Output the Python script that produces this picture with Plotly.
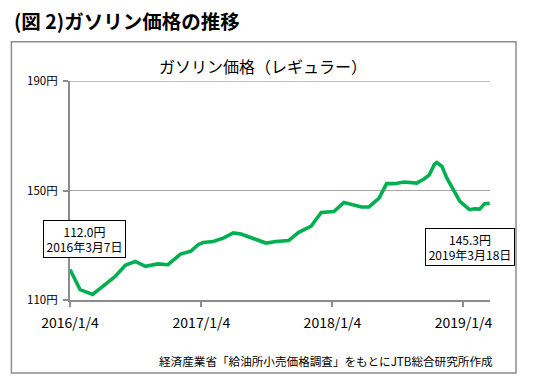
import plotly.graph_objects as go

# ---- data ----
dates = [
    "2016-01-04", "2016-02-01", "2016-03-07", "2016-04-04", "2016-05-09",
    "2016-06-06", "2016-07-04", "2016-08-01", "2016-09-05", "2016-10-03",
    "2016-11-07", "2016-12-05", "2016-12-26", "2017-01-09", "2017-02-06",
    "2017-03-06", "2017-04-03", "2017-04-24", "2017-07-03", "2017-07-31",
    "2017-09-04", "2017-10-02", "2017-11-06", "2017-12-04", "2018-01-08",
    "2018-02-05", "2018-03-05", "2018-03-26", "2018-04-16", "2018-05-14",
    "2018-06-04", "2018-06-25", "2018-07-23", "2018-08-27", "2018-09-17",
    "2018-10-01", "2018-10-15", "2018-10-22", "2018-11-05", "2018-11-19",
    "2018-12-10", "2018-12-25", "2019-01-21", "2019-02-04", "2019-02-18",
    "2019-03-04", "2019-03-18",
]
prices = [
    121.1, 113.8, 112.0, 115.0, 118.6,
    122.7, 124.1, 122.3, 123.2, 122.9,
    126.8, 127.8, 130.2, 131.0, 131.4,
    132.6, 134.5, 134.1, 130.8, 131.4,
    131.7, 134.7, 137.0, 142.0, 142.3,
    145.6, 144.8, 144.0, 144.0, 147.2,
    152.5, 152.5, 153.1, 152.7, 154.3,
    155.7, 159.5, 160.2, 158.8, 154.5,
    149.6, 146.0, 143.0, 143.3, 143.2,
    145.2, 145.3,
]
y_ticks = [110, 150, 190]
y_tick_labels = ["110円", "150円", "190円"]
x_ticks = ["2016-01-04", "2017-01-04", "2018-01-04", "2019-01-04"]
x_tick_labels = ["2016/1/4", "2017/1/4", "2018/1/4", "2019/1/4"]

header = "(図 2)ガソリン価格の推移"
chart_title = "ガソリン価格（レギュラー）"
source = "経済産業省「給油所小売価格調査」をもとにJTB総合研究所作成"
callout_start = "112.0円<br>2016年3月7日"
callout_end = "145.3円<br>2019年3月18日"

FONT = "Noto Sans CJK JP"
GRAY = "#8C8C8C"
GRID = "#A6A6A6"

fig = go.Figure()
fig.add_trace(go.Scatter(
    x=dates, y=prices, mode="lines",
    line=dict(color="#00B050", width=3.6),
    showlegend=False, hoverinfo="skip",
))

fig.update_layout(
    width=542, height=386,
    margin=dict(l=70, r=52, t=81, b=86),
    paper_bgcolor="white", plot_bgcolor="white",
    font=dict(family=FONT, color="#000000"),
    xaxis=dict(
        range=["2016-01-04", "2019-03-19"],
        tickvals=x_ticks, ticktext=x_tick_labels,
        showgrid=False, zeroline=False,
        showline=True, linecolor=GRAY, linewidth=2,
        ticks="outside", ticklen=5, tickcolor=GRAY, tickwidth=1.5,
        tickfont=dict(size=14, family=FONT),
        ticklabelstandoff=4,
    ),
    yaxis=dict(
        range=[110, 190],
        tickvals=y_ticks, ticktext=y_tick_labels,
        showgrid=True, gridcolor=GRID, gridwidth=1.3,
        zeroline=False,
        showline=True, linecolor=GRAY, linewidth=2,
        ticks="outside", ticklen=5, tickcolor=GRAY, tickwidth=1.5,
        tickfont=dict(size=11.5, family=FONT),
        ticklabelstandoff=3,
    ),
)

# top grid line (at the upper edge of the y range)
fig.add_shape(type="line", xref="paper", yref="y",
              x0=0, x1=1, y0=y_ticks[-1], y1=y_ticks[-1],
              line=dict(color=GRID, width=1.3), layer="below")

# outer frame of the chart
fig.add_shape(type="rect", xref="paper", yref="paper",
              x0=-0.1395, x1=1.0619, y0=-0.3333, y1=1.1794,
              line=dict(color=GRAY, width=1.5), fillcolor="rgba(0,0,0,0)",
              layer="below")

fig.add_annotation(text=header, xref="paper", yref="paper",
                   x=-0.138, y=1.2753, xanchor="left", yanchor="middle",
                   showarrow=False,
                   font=dict(size=19.5, family=FONT, color="#000000", weight="bold"))
fig.add_annotation(text=chart_title, xref="paper", yref="paper",
                   x=0.4595, y=1.0685, xanchor="center", yanchor="middle",
                   showarrow=False, font=dict(size=16, family=FONT, color="#000000"))
fig.add_annotation(text=source, xref="paper", yref="paper",
                   x=1.0119, y=-0.2767, xanchor="right", yanchor="middle",
                   showarrow=False, font=dict(size=11.6, family=FONT, color="#000000"))

for txt, cx, cy, w in [(callout_start, 0.035, 0.2808, 81), (callout_end, 0.9512, 0.2438, 88)]:
    fig.add_annotation(text=txt, xref="paper", yref="paper",
                       x=cx, y=cy, xanchor="center", yanchor="middle",
                       showarrow=False, align="center",
                       width=w, height=36, borderpad=0,
                       bordercolor="#000000", borderwidth=1, bgcolor="white",
                       font=dict(size=12, family=FONT, color="#000000"))

fig.write_html("out.html", config={"displayModeBar": False},
               post_script="document.body.style.margin='0px';")
